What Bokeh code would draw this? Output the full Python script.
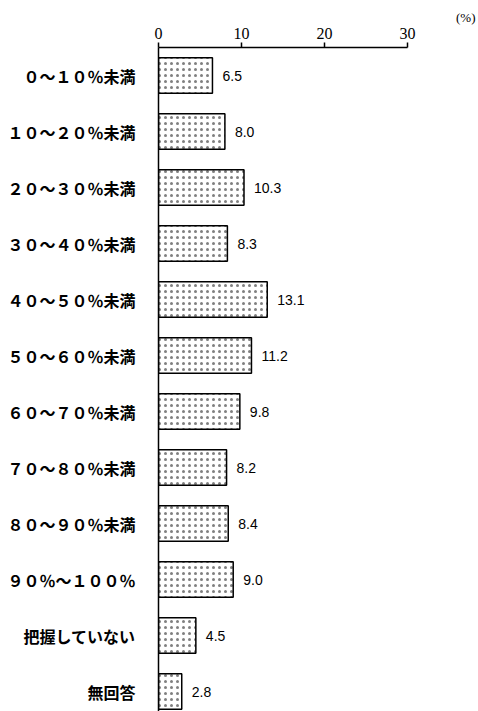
from bokeh.plotting import figure
from bokeh.models import Range1d, FixedTicker, ColumnDataSource, Title
from bokeh.core.properties import value
from bokeh.embed import file_html
from bokeh.resources import INLINE

# Share of respondents by range (%)
categories = ["０～１０％未満", "１０～２０％未満", "２０～３０％未満", "３０～４０％未満",
              "４０～５０％未満", "５０～６０％未満", "６０～７０％未満", "７０～８０％未満",
              "８０～９０％未満", "９０％～１００％", "把握していない", "無回答"]
values = [6.5, 8.0, 10.3, 8.3, 13.1, 11.2, 9.8, 8.2, 8.4, 9.0, 4.5, 2.8]
x_ticks = [0, 10, 20, 30]

idx = list(range(len(categories)))
src = ColumnDataSource(dict(
    y=idx,
    v=values,
    lbl=[f"{v:.1f}" for v in values],
))

p = figure(width=478, height=711, output_backend="svg", toolbar_location=None,
           x_range=Range1d(0, 38.55), y_range=Range1d(11.357, -0.5),
           x_axis_location="above",
           min_border_left=158, min_border_top=47, min_border_right=0,
           min_border_bottom=0)
p.outline_line_color = None
p.xgrid.visible = False
p.ygrid.visible = False
p.background_fill_color = "white"
p.border_fill_color = "white"

# unit note in the top right corner
p.add_layout(Title(text="(%)", align="right", offset=3, standoff=0,
                   text_font="Liberation Serif", text_font_size="13px",
                   text_font_style="normal", text_color="black"), "above")

# top value axis
xa = p.xaxis[0]
xa.ticker = FixedTicker(ticks=x_ticks)
xa.bounds = (0, 30)
xa.axis_line_color = "black"
xa.axis_line_width = 1.5
xa.major_tick_out = 5
xa.major_tick_in = 0
xa.major_tick_line_width = 1.5
xa.minor_tick_line_color = None
xa.major_label_standoff = 4
xa.major_label_text_font = "Liberation Serif"
xa.major_label_text_font_size = "16px"
xa.major_label_text_color = "black"

# category axis on the left
ya = p.yaxis[0]
ya.ticker = FixedTicker(ticks=idx)
ya.major_label_overrides = {i: c for i, c in zip(idx, categories)}
ya.axis_line_color = "black"
ya.axis_line_width = 1.5
ya.major_tick_line_color = None
ya.minor_tick_line_color = None
ya.major_label_standoff = 17
ya.major_label_text_font = "Noto Sans CJK JP"
ya.major_label_text_font_style = "bold"
ya.major_label_text_font_size = "16px"
ya.major_label_text_color = "black"

p.hbar(y="y", right="v", left=0, height=0.63, source=src,
       fill_color="white", line_color="black", line_width=1.5,
       hatch_pattern="dot", hatch_color="#555555", hatch_scale=6,
       hatch_weight=0.5, hatch_alpha=0.75)

p.text(x="v", y="y", text="lbl", source=src, x_offset=10,
       text_baseline="middle", text_align="left",
       text_font=value("Liberation Sans"), text_font_size="14px",
       text_color="black")

open("out.html", "w").write(file_html(p, INLINE))
